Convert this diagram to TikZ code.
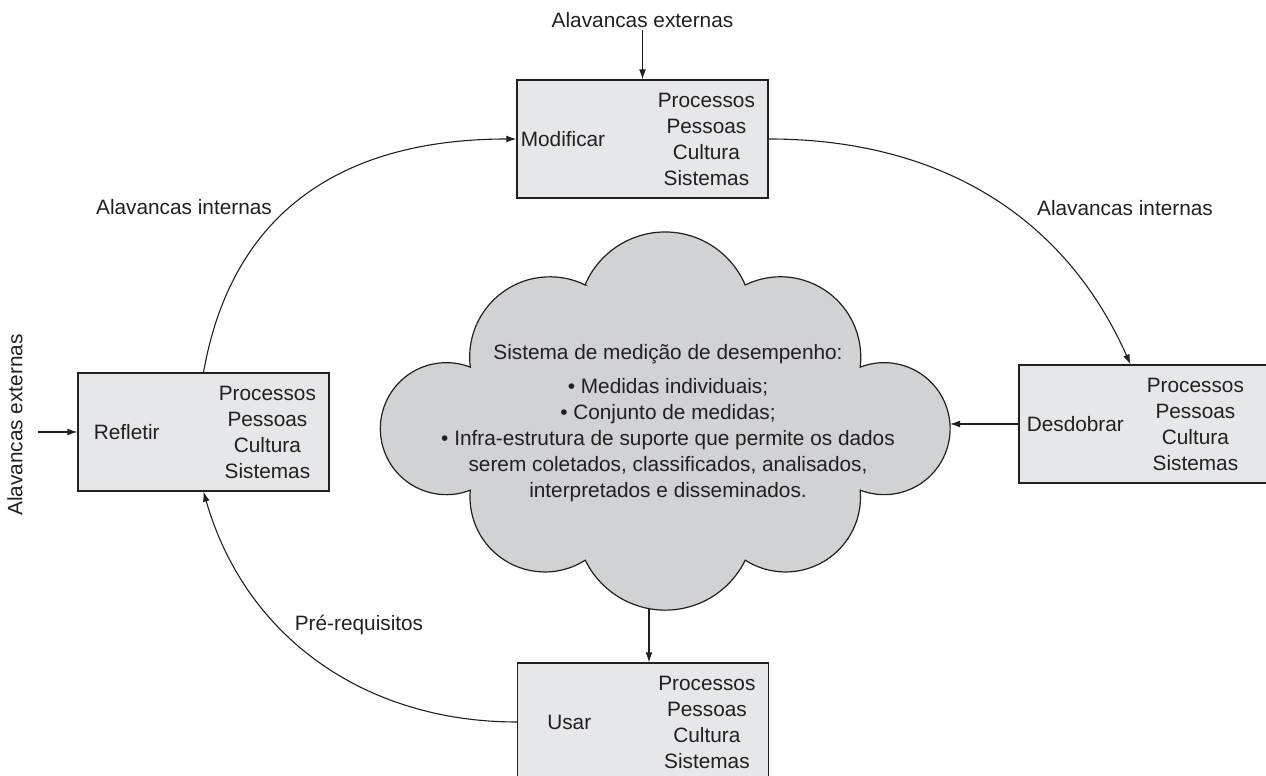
\documentclass[tikz,border=0pt]{standalone}
\usepackage{fontspec}
\setmainfont{Liberation Sans}
\usepackage{tikz}
\usetikzlibrary{arrows.meta,positioning,calc}
\definecolor{DiagInk}{HTML}{231F20}
\definecolor{DiagBox}{HTML}{E6E7E8}
\definecolor{DiagCloud}{HTML}{D1D2D4}

\begin{document}
\begin{tikzpicture}[x=0.5pt,y=0.5pt,>={Latex[length=5pt,width=3.4pt]},
  every node/.style={font=\fontsize{10.4}{13}\selectfont,text=DiagInk},
  stagebox/.style={draw=DiagInk,fill=DiagBox,line width=0.6pt,
    minimum width=125.5pt,minimum height=59pt,inner sep=0pt},
  stagename/.style={anchor=west,inner sep=0pt},
  stagelist/.style={align=center,inner sep=0pt},
  link/.style={->,draw=DiagInk,line width=0.55pt},
  lever/.style={inner sep=1pt}]
  \useasboundingbox (0,0) rectangle (1266,776);
  % Central cloud.
  \draw[draw=DiagInk,fill=DiagCloud,line width=0.6pt]
        (585,491) arc[start angle=157,end angle=23,radius=87]
        arc[start angle=116.1,end angle=-7.2,radius=80.3]
        arc[start angle=111.3,end angle=-111.3,radius=66]
        arc[start angle=5.3,end angle=-122.6,radius=74.9]
        arc[start angle=-26,end angle=-154,radius=89]
        arc[start angle=-57.4,end angle=-185.3,radius=74.9]
        arc[start angle=-68.7,end angle=-291.3,radius=66]
        arc[start angle=187.2,end angle=63.9,radius=80.3] -- cycle;
  \node[align=center] (cloud) at (668,353)
        {Sistema de medição de desempenho:\\[4pt]
         \textbullet\ Medidas individuais;\\
         \textbullet\ Conjunto de medidas;\\
         \textbullet\ Infra-estrutura de suporte que permite os dados\\
         serem coletados, classificados, analisados,\\
         interpretados e disseminados.};
  \coordinate (cloudE) at (950,352);
  \coordinate (cloudS) at (649,167.3);
  % Modificar.
  \node[stagebox] (mod) at (642.5,637) {};
  \node[stagename] (modl) at ($(mod.west)+(4,0)$) {Modificar};
  \node[stagelist] (mods) at ($(mod.west)+(190,0)$)
        {Processos\\Pessoas\\Cultura\\Sistemas};
  % Desdobrar.
  \node[stagebox] (dsd) at (1144.5,352) {};
  \node[stagename] (dsdl) at ($(dsd.west)+(8,0)$) {Desdobrar};
  \node[stagelist] (dsds) at ($(dsd.west)+(177,0)$)
        {Processos\\Pessoas\\Cultura\\Sistemas};
  % Usar.
  \node[stagebox] (usa) at (643,54) {};
  \node[stagename] (usal) at ($(usa.west)+(30,0)$) {Usar};
  \node[stagelist] (usas) at ($(usa.west)+(190,0)$)
        {Processos\\Pessoas\\Cultura\\Sistemas};
  % Refletir.
  \node[stagebox] (ref) at (203.5,344) {};
  \node[stagename] (refl) at ($(ref.west)+(16,0)$) {Refletir};
  \node[stagelist] (refs) at ($(ref.west)+(190,0)$)
        {Processos\\Pessoas\\Cultura\\Sistemas};
  % Levers.
  \node[lever] (topext) at (642.5,756) {Alavancas externas};
  \node[lever,rotate=90] (lftext) at (15,351) {Alavancas externas};
  \coordinate (lftin) at (38,344);
  \node[lever] (intl) at (184,569) {Alavancas internas};
  \node[lever] (intr) at (1125,568) {Alavancas internas};
  \node[lever] (prereq) at (359,151) {Pré-requisitos};
  % Cycle.
  \draw[link] (ref.north) to[out=80,in=180,looseness=1.1] (mod.west);
  \draw[link] (mod.east) to[out=0,in=114] ($(dsd.north)+(-14,0)$);
  \draw[link] (usa.west) to[out=180,in=-74] (ref.south);
  \draw[link] (dsd.west) -- (cloudE);
  \draw[link] (cloudS) -- (cloudS |- usa.north);
  \draw[link] (topext) -- (mod);
  \draw[link] (lftin) -- (ref.west);
\end{tikzpicture}
\end{document}
